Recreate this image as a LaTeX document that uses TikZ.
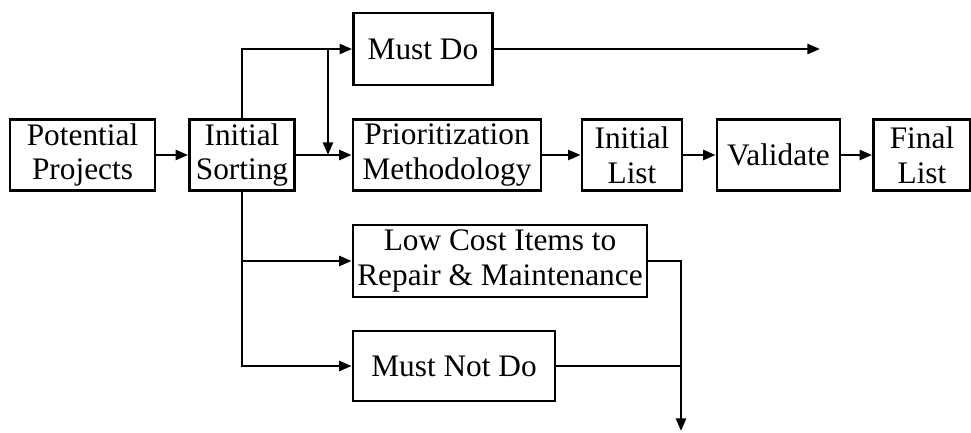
\documentclass[tikz,border=0pt]{standalone}
\usepackage{fontspec}
\setmainfont{Liberation Serif}
\usetikzlibrary{arrows.meta,calc}

\begin{document}
\begin{tikzpicture}[x=0.75pt,y=-0.75pt,
  box/.style={draw,line width=2pt,align=center,inner sep=1pt,
    minimum height=53.25pt,font=\fontsize{23.5}{26}\selectfont},
  flow/.style={line width=2pt,-{Triangle[length=9.5pt,width=7.5pt]}}]
\useasboundingbox (0,0) rectangle (971,432);
\node[box,minimum width=108.75pt] (pp) at (82.5,155) {Potential\\Projects};
\node[box,minimum width=78.75pt] (is) at (242,155) {Initial\\Sorting};
\node[box,minimum width=104.25pt,minimum height=54pt] (md) at (423,49) {Must Do};
\node[box,minimum width=141pt] (pm) at (447,155) {Prioritization\\Methodology};
\node[box,minimum width=75pt] (il) at (632,155) {Initial\\List};
\node[box,minimum width=92.25pt] (va) at (778.5,155) {Validate};
\node[box,minimum width=72.75pt] (fl) at (922,155) {Final\\List};
\node[box,minimum width=220.5pt,minimum height=54pt] (lc) at (500,261) {Low Cost Items to\\Repair \& Maintenance};
\node[box,minimum width=151.5pt,minimum height=52.5pt] (mnd) at (454,366) {Must Not Do};
\coordinate (j1) at (328,49);
\coordinate (j2) at (328,155);
\coordinate (mdout) at (820,49);
\coordinate (out) at (681,431);
\draw[flow] (pp) -- (is);
\draw[flow] (is) -- (pm);
\draw[flow] (is.north) |- (md.west);
\draw[flow] (j1) -- (j2);
\draw[flow] (md.east) -- (mdout);
\draw[flow] (pm) -- (il);
\draw[flow] (il) -- (va);
\draw[flow] (va) -- (fl);
\draw[flow] (is.south) |- (mnd.west);
\draw[flow] (is.south |- lc.west) -- (lc.west);
\draw[flow] (lc.east) -| (out);
\draw[line width=2pt] (mnd.east) -- (mnd.east -| out);
\end{tikzpicture}
\end{document}
